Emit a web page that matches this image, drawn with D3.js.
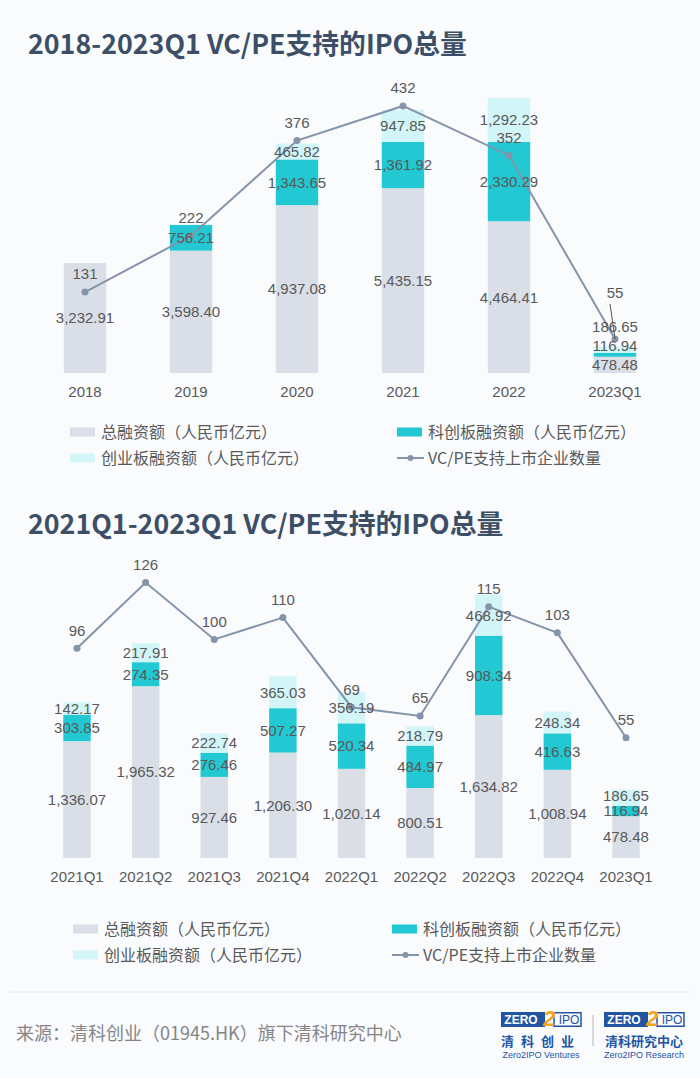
<!DOCTYPE html>
<html>
<head>
<meta charset="utf-8">
<script src="https://cdn.jsdelivr.net/npm/d3@7"></script>
<style>
  body { margin: 0; background: #fafbfd; }
  text { font-family: "Liberation Sans", "Noto Sans CJK SC", sans-serif; }
</style>
</head>
<body>
<div id="chart"></div>
<script>
// data: yearly
var yearCats = ["2018", "2019", "2020", "2021", "2022", "2023Q1"];
var yearTotal = [3232.91, 3598.40, 4937.08, 5435.15, 4464.41, 478.48];
var yearStar = [null, 756.21, 1343.65, 1361.92, 2330.29, 116.94];
var yearChinext = [null, null, 465.82, 947.85, 1292.23, 186.65];
var yearCount = [131, 222, 376, 432, 352, 55];

// data: quarterly
var qCats = ["2021Q1", "2021Q2", "2021Q3", "2021Q4", "2022Q1", "2022Q2", "2022Q3", "2022Q4", "2023Q1"];
var qTotal = [1336.07, 1965.32, 927.46, 1206.30, 1020.14, 800.51, 1634.82, 1008.94, 478.48];
var qStar = [303.85, 274.35, 276.46, 507.27, 520.34, 484.97, 908.34, 416.63, 116.94];
var qChinext = [142.17, 217.91, 222.74, 365.03, 356.19, 218.79, 468.92, 248.34, 186.65];
var qCount = [96, 126, 100, 110, 69, 65, 115, 103, 55];

var seriesNames = ["总融资额（人民币亿元）", "科创板融资额（人民币亿元）", "创业板融资额（人民币亿元）", "VC/PE支持上市企业数量"];
var titles = ["2018-2023Q1 VC/PE支持的IPO总量", "2021Q1-2023Q1 VC/PE支持的IPO总量"];

var colors = ["#d9dee7", "#22c8d2", "#d2f5f8"];
var lineColor = "#8494aa";
var textColor = "#595959";
var fmt = d3.format(",.2f");

var svg = d3.select("#chart").append("svg")
    .attr("width", 700)
    .attr("height", 1078)

svg.append("rect").attr("width", 700).attr("height", 1078).attr("fill", "#fafbfd")

function drawChart(o) {
    var g = svg.append("g")

    g.append("text")
        .attr("x", 28)
        .attr("y", o.titleY)
        .text(o.title)
        .style("font-family", "'Noto Sans CJK SC', sans-serif")
        .style("font-weight", "bold")
        .style("font-size", "26.8px")
        .style("fill", "#3c4f66")

    var x = d3.scaleBand().domain(o.cats).range(o.xRange).padding(0);
    var bw = x.bandwidth() * 0.4;
    var y = d3.scaleLinear().domain([0, o.barMax]).range([o.base, o.base - 306]);
    var yc = d3.scaleLinear().domain([0, o.countMax]).range([o.base, o.base - 306]);

    var rows = o.cats.map(function(c, i) {
        var vals = [o.total[i], o.star[i], o.chinext[i]];
        var y0 = 0, segs = [];
        vals.forEach(function(v, k) {
            if (v != null) {
                segs.push({cat: c, k: k, v: v, y0: y0, y1: y0 + v});
                y0 += v;
            }
        });
        // label positions, pushed apart when the segments are thin
        var prev = null;
        segs.forEach(function(s) {
            var mid = (y(s.y0) + y(s.y1)) / 2;
            s.ly = prev == null ? mid : Math.min(mid, prev - o.gap);
            prev = s.ly;
        });
        return {cat: c, segs: segs, count: o.count[i]};
    });

    var segs = [].concat.apply([], rows.map(function(r) { return r.segs; }));

    g.selectAll("rect.bar")
        .data(segs)
        .enter()
        .append("rect")
        .attr("class", "bar")
        .attr("x", function(d) { return x(d.cat) + (x.bandwidth() - bw) / 2 })
        .attr("y", function(d) { return y(d.y1) })
        .attr("width", bw)
        .attr("height", function(d) { return y(d.y0) - y(d.y1) })
        .style("fill", function(d) { return colors[d.k] })

    // x axis labels
    var ax = g.append("g")
        .attr("transform", "translate(0," + o.base + ")")
        .call(d3.axisBottom(x).tickSize(0).tickPadding(13))
    ax.select(".domain").remove()
    ax.selectAll("text")
        .style("font-size", "15px")
        .style("fill", textColor)
        .style("font-family", "'Liberation Sans', sans-serif")

    // line
    var line = d3.line()
        .x(function(d) { return x(d.cat) + x.bandwidth() / 2 })
        .y(function(d) { return yc(d.count) })

    g.append("path")
        .datum(rows)
        .attr("d", line)
        .attr("fill", "none")
        .attr("stroke", lineColor)
        .attr("stroke-width", 2)

    g.selectAll("circle.pt")
        .data(rows)
        .enter()
        .append("circle")
        .attr("cx", function(d) { return x(d.cat) + x.bandwidth() / 2 })
        .attr("cy", function(d) { return yc(d.count) })
        .attr("r", 3.5)
        .style("fill", lineColor)

    // bar labels
    g.selectAll("text.bl")
        .data(segs)
        .enter()
        .append("text")
        .attr("x", function(d) { return x(d.cat) + x.bandwidth() / 2 })
        .attr("y", function(d) { return d.ly })
        .attr("dy", "0.36em")
        .attr("text-anchor", "middle")
        .text(function(d) { return fmt(d.v) })
        .style("font-size", "15px")
        .style("fill", textColor)

    // count labels, moved up with a leader line if they hit a bar label
    rows.forEach(function(r) {
        var cx = x(r.cat) + x.bandwidth() / 2;
        var cy = yc(r.count);
        var ly = cy - 18;
        var hit = r.segs.some(function(s) { return Math.abs(s.ly - ly) < 14 });
        if (hit) {
            var topLabel = d3.min(r.segs, function(s) { return s.ly });
            ly = topLabel - 34;
            g.append("line")
                .attr("x1", cx - 5).attr("y1", ly + 11)
                .attr("x2", cx).attr("y2", cy)
                .attr("stroke", "#555")
                .attr("stroke-width", 1)
        }
        g.append("text")
            .attr("x", cx)
            .attr("y", ly)
            .attr("dy", "0.36em")
            .attr("text-anchor", "middle")
            .text(r.count)
            .style("font-size", "15px")
            .style("fill", textColor)
    });

    // legend
    var lg = g.selectAll("g.leg")
        .data(seriesNames)
        .enter()
        .append("g")
        .attr("transform", function(d, i) {
            return "translate(" + o.legX[[0, 1, 0, 1][i]] + "," + (o.legY + [0, 0, 26, 26][i]) + ")"
        })

    lg.each(function(d, i) {
        var el = d3.select(this);
        if (i < 3) {
            el.append("rect").attr("x", 0).attr("y", -4.5).attr("width", 25).attr("height", 9)
                .style("fill", colors[i])
        } else {
            el.append("line").attr("x1", 0).attr("x2", 27).attr("y1", 0).attr("y2", 0)
                .attr("stroke", lineColor).attr("stroke-width", 2)
            el.append("circle").attr("cx", 13.5).attr("cy", 0).attr("r", 3).style("fill", lineColor)
        }
        el.append("text").attr("x", 31).attr("y", 0).attr("dy", "0.36em")
            .text(d)
            .style("font-family", "'Noto Sans CJK SC', sans-serif")
            .style("font-size", "16px")
            .style("fill", textColor)
    });
}

drawChart({
    title: titles[0], titleY: 54,
    cats: yearCats, total: yearTotal, star: yearStar, chinext: yearChinext, count: yearCount,
    xRange: [32, 668], base: 373, barMax: 9000, countMax: 495, gap: 19,
    legX: [70, 397], legY: 432
});

drawChart({
    title: titles[1], titleY: 534,
    cats: qCats, total: qTotal, star: qStar, chinext: qChinext, count: qCount,
    xRange: [42.7, 660.3], base: 858, barMax: 3500, countMax: 140, gap: 15,
    legX: [73, 392], legY: 929
});

// footer
svg.append("line")
    .attr("x1", 10).attr("x2", 690).attr("y1", 992).attr("y2", 992)
    .attr("stroke", "#e2e4e9").attr("stroke-width", 1)

svg.append("text")
    .attr("x", 16).attr("y", 1034).attr("dy", "0.36em")
    .text("来源：清科创业（01945.HK）旗下清科研究中心")
    .style("font-family", "'Noto Sans CJK SC', sans-serif")
    .style("font-size", "18px")
    .style("fill", "#858585")

function logo(x0, cn, en, spaced) {
    var lgo = svg.append("g").attr("transform", "translate(" + x0 + ",1012)");
    lgo.append("rect").attr("x", 0).attr("y", 0).attr("width", 44).attr("height", 15).style("fill", "#2254a4")
    lgo.append("text").attr("x", 20).attr("y", 12).attr("text-anchor", "middle").text("ZERO")
        .style("font-size", "12px").style("font-weight", "bold").style("fill", "#fff")
    lgo.append("rect").attr("x", 53).attr("y", 0.75).attr("width", 27).attr("height", 13.5)
        .style("fill", "none").style("stroke", "#2254a4").style("stroke-width", 1.5)
    lgo.append("text").attr("x", 68).attr("y", 12).attr("text-anchor", "middle").text("IPO")
        .style("font-size", "12px").style("fill", "#2254a4")
    lgo.append("text").attr("x", 48).attr("y", 14).attr("text-anchor", "middle").text("2")
        .style("font-size", "22px").style("font-weight", "bold").style("font-style", "italic").style("fill", "#f2a51f")
    lgo.append("text").attr("x", 40).attr("y", 33.5).attr("text-anchor", "middle").text(cn)
        .style("font-family", "'Noto Sans CJK SC', sans-serif")
        .style("font-size", "13px").style("font-weight", "bold").style("fill", "#2254a4")
        .style("letter-spacing", spaced ? "7px" : "0px")
    lgo.append("text").attr("x", 40).attr("y", 46).attr("text-anchor", "middle").text(en)
        .style("font-size", "9px").style("fill", "#2254a4")
}
logo(501, "清科创业", "Zero2IPO Ventures", true);
svg.append("line").attr("x1", 593).attr("x2", 593).attr("y1", 1015).attr("y2", 1046)
    .attr("stroke", "#b8b8b8").attr("stroke-width", 1)
logo(604, "清科研究中心", "Zero2IPO Research", false);
</script>
</body>
</html>
